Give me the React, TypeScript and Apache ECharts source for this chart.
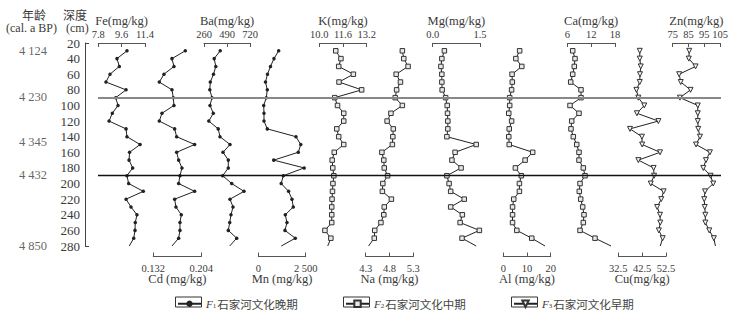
import React, { useEffect, useRef } from 'react';
import * as echarts from 'echarts';

// depth (cm) of each sample
const depths = [30, 40, 50, 60, 70, 80, 90, 100, 110, 120, 130, 140, 150, 160, 170, 180, 190, 200, 210, 220, 230, 240, 250, 260, 270, 280];
const depthTicks = [20, 280];

// element contents (mg/kg)
const fe = [10.01, 9.24, 9.42, 8.70, 8.39, 9.94, 9.14, 9.32, 8.88, 8.63, 9.94, 10.01, 11.02, 10.21, 10.17, 10.45, 10.01, 10.14, 11.27, 9.94, 10.32, 10.78, 10.65, 10.63, 10.53, 10.19];
const cd = [0.180, 0.160, 0.163, 0.148, 0.141, 0.160, 0.162, 0.163, 0.145, 0.141, 0.164, 0.167, 0.194, 0.167, 0.170, 0.175, 0.172, 0.170, 0.194, 0.164, 0.166, 0.174, 0.172, 0.172, 0.170, 0.160];
const ba = [422, 362, 378, 355, 323, 318, 340, 320, 353, 308, 402, 420, 520, 450, 503, 503, 447, 537, 660, 520, 550, 530, 517, 503, 587, 517];
const mn = [1075, 827, 643, 485, 379, 474, 422, 285, 300, 300, 474, 1987, 2240, 2108, 812, 2419, 1318, 1207, 1597, 1776, 1845, 1423, 1512, 1407, 1950, 1212];
const k = [11.11, 11.46, 11.31, 12.30, 11.33, 12.86, 11.04, 11.23, 11.65, 11.65, 11.18, 11.31, 11.65, 11.01, 10.87, 10.91, 10.98, 10.92, 10.89, 10.86, 10.84, 10.84, 10.84, 10.38, 10.78, 10.57];
const na = [5.07, 5.10, 5.19, 4.94, 5.03, 4.95, 4.92, 5.07, 4.83, 4.75, 4.88, 4.87, 4.86, 4.64, 4.68, 4.69, 4.76, 4.66, 4.65, 4.84, 4.69, 4.68, 4.62, 4.49, 4.48, 4.36];
const mg = [0.37, 0.29, 0.26, 0.29, 0.29, 0.30, 0.41, 0.46, 0.47, 0.48, 0.48, 0.45, 1.38, 0.71, 0.61, 0.90, 0.45, 0.52, 0.57, 1.00, 0.57, 0.94, 0.87, 1.48, 0.93, 1.38];
const al = [6.9, 5.3, 7.8, 3.7, 3.8, 3.5, 2.7, 2.7, 2.3, 3.5, 2.5, 2.3, 2.5, 12.4, 9.2, 5.1, 7.6, 6.8, 6.8, 4.4, 3.9, 3.9, 3.9, 5.7, 12.0, 17.6];
const ca = [7.36, 7.94, 7.76, 7.36, 6.86, 9.45, 9.45, 6.68, 8.94, 7.11, 6.93, 7.51, 8.37, 8.94, 8.94, 10.03, 10.45, 9.20, 9.02, 9.37, 9.87, 10.20, 10.03, 9.20, 12.97, 17.0];
const cu = [41.5, 41.5, 41.9, 41.6, 41.5, 40.1, 40.9, 43.4, 40.3, 49.3, 37.4, 42.4, 42.5, 50.0, 40.9, 47.3, 47.5, 46.1, 51.5, 50.5, 48.8, 50.0, 50.1, 49.5, 51.1, 50.1];
const zn = [85.5, 85.2, 89.5, 79.1, 80.1, 86.3, 79.6, 90.9, 90.9, 90.9, 91.2, 92.3, 89.8, 98.6, 96.1, 94.4, 99.0, 100.7, 95.5, 95.0, 95.3, 95.7, 95.7, 98.2, 101.1, 102.1];

// axis tick labels
const feTicks = [7.8, 9.6, 11.4];
const cdTicks = [0.132, 0.204];
const baTicks = [260, 490, 720];
const mnTicks = [0, 2500];
const kTicks = [10.0, 11.6, 13.2];
const naTicks = [4.3, 4.8, 5.3];
const mgTicks = [0.0, 1.5];
const alTicks = [0, 10, 20];
const caTicks = [6, 12, 18];
const cuTicks = [32.5, 42.5, 52.5];
const znTicks = [75, 85, 95, 105];

// age labels (cal. a BP) and the depth they sit at
const ages = [4124, 4230, 4345, 4432, 4850];
const ageDepths = [30, 89, 147, 189, 280];

// boundary lines (cm)
const boundaries = [90, 190];

// legend groups
const groups = ['F1石家河文化晚期', 'F2石家河文化中期', 'F3石家河文化早期'];

const SERIF = '"Liberation Serif", "DejaVu Serif", serif';
const CJK = '"Noto Sans CJK SC", sans-serif';
const TXT = '#3a3a3a';

const fmtSpace = (v: number) => {
  const s = String(Math.round(v));
  return s.length > 3 ? s.slice(0, s.length - 3) + ' ' + s.slice(-3) : s;
};

const columns = [
  { name: 'Fe(mg/kg)', data: fe, ticks: feTicks, pos: 'top', l: 98.3, r: 145, g: 0, fmt: (v: number) => v.toFixed(1) },
  { name: 'Cd (mg/kg)', data: cd, ticks: cdTicks, pos: 'bottom', l: 153.3, r: 201.3, g: 0, fmt: (v: number) => v.toFixed(3) },
  { name: 'Ba(mg/kg)', data: ba, ticks: baTicks, pos: 'top', l: 204, r: 250, g: 0, fmt: (v: number) => String(v) },
  { name: 'Mn (mg/kg)', data: mn, ticks: mnTicks, pos: 'bottom', l: 258.3, r: 305.7, g: 0, fmt: fmtSpace },
  { name: 'K(mg/kg)', data: k, ticks: kTicks, pos: 'top', l: 319.3, r: 366.7, g: 1, fmt: (v: number) => v.toFixed(1) },
  { name: 'Na (mg/kg)', data: na, ticks: naTicks, pos: 'bottom', l: 365.7, r: 413.3, g: 1, fmt: (v: number) => v.toFixed(1) },
  { name: 'Mg(mg/kg)', data: mg, ticks: mgTicks, pos: 'top', l: 432.7, r: 480, g: 1, fmt: (v: number) => v.toFixed(1) },
  { name: 'Al (mg/kg)', data: al, ticks: alTicks, pos: 'bottom', l: 503.3, r: 550.7, g: 1, fmt: (v: number) => String(v) },
  { name: 'Ca(mg/kg)', data: ca, ticks: caTicks, pos: 'top', l: 567.3, r: 615, g: 1, fmt: (v: number) => String(v) },
  { name: 'Cu(mg/kg)', data: cu, ticks: cuTicks, pos: 'bottom', l: 618.3, r: 666, g: 2, fmt: (v: number) => v.toFixed(1) },
  { name: 'Zn(mg/kg)', data: zn, ticks: znTicks, pos: 'top', l: 672.7, r: 720, g: 2, fmt: (v: number) => String(v) },
];

const symbols = [
  { symbol: 'circle', symbolSize: 3.5, itemStyle: { color: '#222', borderWidth: 0 } },
  { symbol: 'rect', symbolSize: 4.5, itemStyle: { color: '#e8e8e8', borderColor: '#333', borderWidth: 1 } },
  { symbol: 'triangle', symbolSize: 5, symbolRotate: 180, itemStyle: { color: '#f4f4f4', borderColor: '#333', borderWidth: 1 } },
];

const TOP = 43;
const H = 203;

export default function App() {
  const ref = useRef<HTMLDivElement>(null);
  useEffect(() => {
    if (!ref.current) return;
    const chart = echarts.init(ref.current, undefined, { renderer: 'svg' });
    const grid: any[] = [];
    const xAxis: any[] = [];
    const yAxis: any[] = [];
    const series: any[] = [];

    columns.forEach((c, i) => {
      grid.push({ left: c.l, width: c.r - c.l, top: TOP, height: H });
      const top = c.pos === 'top';
      xAxis.push({
        gridIndex: i,
        type: 'value',
        position: c.pos,
        offset: top ? 0 : 10.5,
        min: c.ticks[0],
        max: c.ticks[c.ticks.length - 1],
        splitLine: { show: false },
        axisLine: { show: true, lineStyle: { color: '#555', width: 1 } },
        axisTick: { show: true, inside: true, length: 4, lineStyle: { color: '#555' }, customValues: c.ticks },
        axisLabel: {
          show: true, customValues: c.ticks, formatter: c.fmt, margin: top ? 3 : 6,
          fontFamily: SERIF, fontSize: 10.5, color: TXT,
        },
        name: c.name,
        nameLocation: 'middle',
        nameGap: top ? 16 : 16,
        nameMoveOverlap: false,
        nameTextStyle: { fontFamily: SERIF, fontSize: 12.5, color: TXT },
      });
      yAxis.push({ gridIndex: i, type: 'value', min: 20, max: 280, inverse: true, show: false });
      const st = symbols[c.g];
      series.push({
        type: 'line',
        name: groups[c.g],
        xAxisIndex: i,
        yAxisIndex: i,
        clip: false,
        symbol: st.symbol,
        symbolSize: st.symbolSize,
        symbolRotate: (st as any).symbolRotate,
        itemStyle: st.itemStyle,
        lineStyle: { color: '#222', width: 1 },
        emphasis: { disabled: true },
        data: depths.map((d, j) =>
          j === depths.length - 1 ? { value: [c.data[j], d], symbol: 'none' } : [c.data[j], d]
        ),
      });
    });

    // depth axis grid
    const gD = grid.length;
    grid.push({ left: 85, width: 10, top: TOP, height: H });
    xAxis.push({ gridIndex: gD, type: 'value', show: false, min: 0, max: 1 });
    yAxis.push({
      gridIndex: gD, type: 'value', min: 20, max: 280, interval: 20, inverse: true, position: 'left',
      axisLine: { show: true, lineStyle: { color: '#444' } },
      axisTick: { show: false },
      splitLine: { show: false },
      axisLabel: { margin: 5, fontFamily: SERIF, fontSize: 13, color: TXT },
    });
    yAxis.push({
      gridIndex: gD, type: 'value', min: 20, max: 280, inverse: true, position: 'left',
      axisLine: { show: false },
      axisTick: { show: true, inside: true, length: 4, lineStyle: { color: '#444' }, customValues: depthTicks },
      axisLabel: { show: false },
      splitLine: { show: false },
    });

    // boundary lines grid
    const gB = grid.length;
    grid.push({ left: 98, width: 623, top: TOP, height: H });
    xAxis.push({ gridIndex: gB, type: 'value', show: false, min: 0, max: 1 });
    const yB = yAxis.length;
    yAxis.push({ gridIndex: gB, type: 'value', show: false, min: 20, max: 280, inverse: true });
    series.push({
      type: 'line', xAxisIndex: gB, yAxisIndex: yB, data: [], silent: true,
      markLine: {
        silent: true, symbol: ['none', 'none'], label: { show: false },
        data: boundaries.map((b, i) => ({
          yAxis: b,
          lineStyle: i === 0 ? { color: '#888', width: 2, type: 'solid' } : { color: '#111', width: 1.4, type: 'solid' },
        })),
      },
    });

    // age labels grid
    const gA = grid.length;
    grid.push({ left: 10, width: 40, top: TOP, height: H });
    xAxis.push({ gridIndex: gA, type: 'value', show: false, min: 0, max: 1 });
    const yA = yAxis.length;
    yAxis.push({ gridIndex: gA, type: 'value', show: false, min: 20, max: 280, inverse: true });
    series.push({
      type: 'scatter', xAxisIndex: gA, yAxisIndex: yA, symbolSize: 0, silent: true,
      data: ages.map((a, i) => ({ value: [1, ageDepths[i]], age: a })),
      label: {
        show: true, position: 'left', distance: 3,
        formatter: (p: any) => fmtSpace(p.data.age),
        fontFamily: SERIF, fontSize: 12.5, color: TXT,
      },
    });

    const legendLefts = [177, 345, 513];
    const legend = groups.map((gname, i) => ({
      data: [gname],
      left: legendLefts[i],
      top: 298,
      padding: 0,
      itemWidth: 23,
      itemHeight: 8,
      selectedMode: false,
      formatter: (n: string) => `{f|F}{s|${n[1]}}{t|${n.slice(2)}}`,
      textStyle: {
        color: TXT,
        rich: {
          f: { fontFamily: SERIF, fontStyle: 'italic', fontSize: 11, color: TXT },
          s: { fontFamily: SERIF, fontSize: 7, color: TXT, verticalAlign: 'bottom', padding: [4, 0, 0, 0] },
          t: { fontFamily: CJK, fontSize: 11.5, color: '#444', padding: [0, 0, 0, 1] },
        },
      },
    }));

    const graphic: any[] = [
      { type: 'text', left: 22, top: 8, style: { text: '年龄', font: `12px ${CJK}`, fill: TXT } },
      { type: 'text', left: 6, top: 22, style: { text: '(cal. a BP)', font: `12px ${SERIF}`, fill: TXT } },
      { type: 'text', left: 63, top: 8, style: { text: '深度', font: `12px ${CJK}`, fill: TXT } },
      { type: 'text', left: 66, top: 22, style: { text: '(cm)', font: `12px ${SERIF}`, fill: TXT } },
      ...legendLefts.map((l) => ({
        type: 'rect', shape: { x: l - 1.5, y: 297, width: 26, height: 10 },
        style: { fill: 'none', stroke: '#333', lineWidth: 1 }, silent: true,
      })),
    ];

    chart.setOption({
      animation: false,
      backgroundColor: '#fff',
      grid, xAxis, yAxis, series, legend, graphic,
    });
    return () => chart.dispose();
  }, []);
  return <div ref={ref} style={{ position: 'fixed', left: 0, top: 0, width: 736, height: 320 }} />;
}
